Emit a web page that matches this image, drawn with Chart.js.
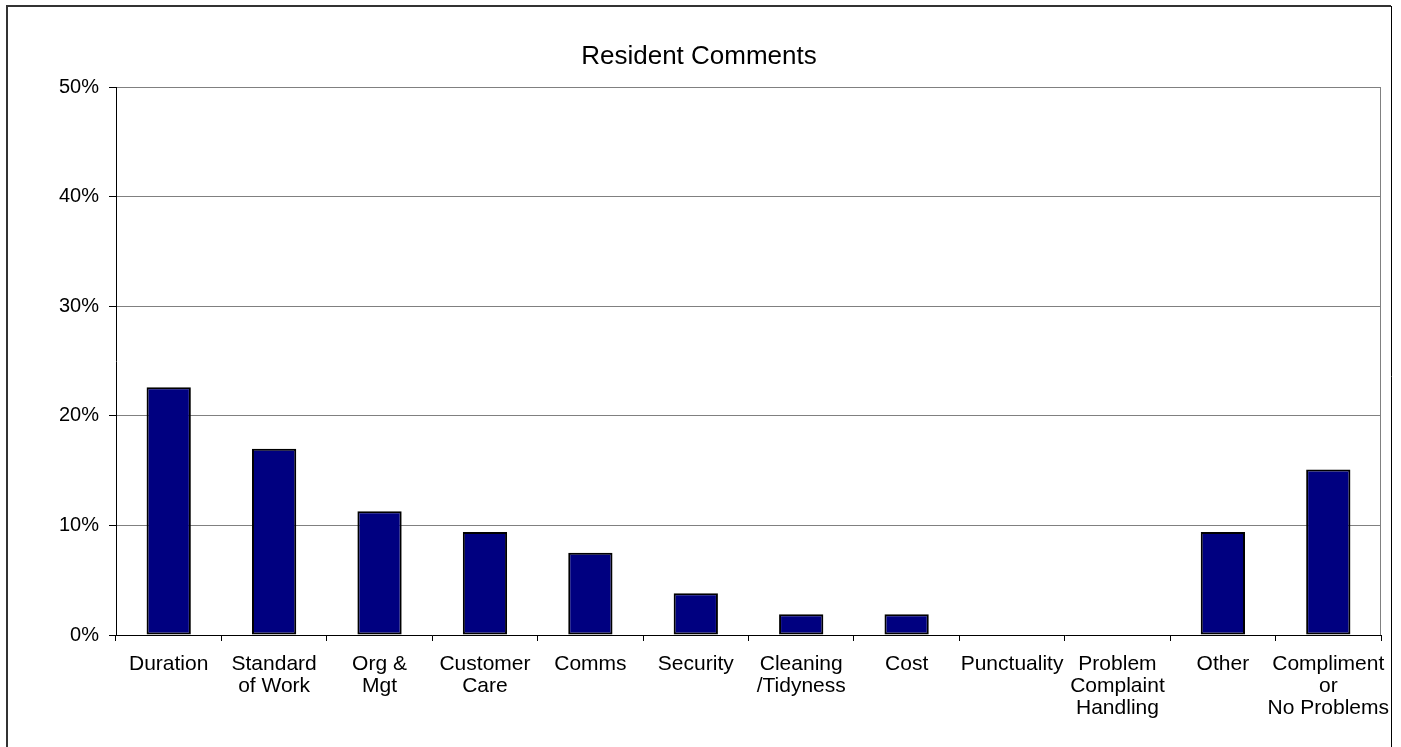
<!DOCTYPE html>
<html>
<head>
<meta charset="utf-8">
<script src="https://cdn.jsdelivr.net/npm/chart.js@4/dist/chart.umd.min.js"></script>
<style>
  html, body { margin: 0; padding: 0; background: #fff; }
  #wrap { width: 1401px; height: 747px; position: relative; }
</style>
</head>
<body>
<div id="wrap"><canvas id="chart" width="1401" height="747"></canvas></div>
<script>
const categories = [
  'Duration',
  ['Standard', 'of Work'],
  ['Org &', 'Mgt'],
  ['Customer', 'Care'],
  'Comms',
  'Security',
  ['Cleaning', '/Tidyness'],
  'Cost',
  'Punctuality',
  ['Problem', 'Complaint', 'Handling'],
  'Other',
  ['Compliment', 'or', 'No Problems']
]
const percentages = [22.6, 17.0, 11.3, 9.4, 7.5, 3.8, 1.9, 1.9, 0, 0, 9.4, 15.1]
const yTicks = [0, 10, 20, 30, 40, 50]
const chartTitle = 'Resident Comments'

const FONT = 'Liberation Sans, Arial, sans-serif'

// outer frame, title centred on the frame, right edge of the plot area
const framePlugin = {
  id: 'frame',
  afterDraw(chart) {
    const ctx = chart.ctx
    const a = chart.chartArea
    ctx.save()
    ctx.strokeStyle = '#808080'
    ctx.lineWidth = 1
    ctx.beginPath()
    ctx.moveTo(Math.round(a.right) - 0.5, a.top)
    ctx.lineTo(Math.round(a.right) - 0.5, a.bottom)
    ctx.stroke()

    ctx.strokeStyle = '#333'
    ctx.lineWidth = 2
    ctx.beginPath()
    ctx.moveTo(7, 747)
    ctx.lineTo(7, 6)
    ctx.lineTo(1391, 6)
    ctx.stroke()
    ctx.strokeStyle = '#000'
    ctx.lineWidth = 1
    ctx.beginPath()
    ctx.moveTo(1391.5, 6)
    ctx.lineTo(1391.5, 747)
    ctx.stroke()

    ctx.fillStyle = '#000'
    ctx.font = '26px ' + FONT
    ctx.textAlign = 'center'
    ctx.textBaseline = 'middle'
    ctx.fillText(chartTitle, 699, 57)
    ctx.restore()
  }
}

new Chart(document.getElementById('chart').getContext('2d'), {
  type: 'bar',
  data: {
    labels: categories,
    datasets: [{
      data: percentages,
      backgroundColor: '#000080',
      borderColor: '#000',
      borderWidth: 2,
      borderSkipped: false,
      categoryPercentage: 1,
      barPercentage: 0.42
    }]
  },
  options: {
    responsive: false,
    animation: false,
    layout: { padding: { left: 0, right: 20, top: 87, bottom: 0 } },
    plugins: {
      legend: { display: false },
      tooltip: { enabled: false },
      title: { display: false }
    },
    scales: {
      x: {
        offset: true,
        border: { color: '#000', width: 1 },
        grid: { offset: true, drawOnChartArea: false, tickColor: '#000', tickLength: 6 },
        ticks: {
          color: '#000',
          maxRotation: 0,
          autoSkip: false,
          padding: 12,
          font: { family: FONT, size: 21, lineHeight: 1.05 }
        },
        afterFit(scale) {
          scale.height = 112
          // let the last label run past the plot edge, as in the original
          scale.paddingLeft = 0
          scale.paddingRight = 0
        }
      },
      y: {
        min: 0,
        max: 50,
        border: { color: '#000', width: 1 },
        grid: { color: '#808080', tickColor: '#000', tickLength: 7 },
        afterBuildTicks(scale) { scale.ticks = yTicks.map(v => ({ value: v })) },
        ticks: {
          color: '#000',
          padding: 10,
          font: { family: FONT, size: 20 },
          callback: v => v + '%'
        },
        afterFit(scale) { scale.width = 116 }
      }
    }
  },
  plugins: [framePlugin]
})
</script>
</body>
</html>
